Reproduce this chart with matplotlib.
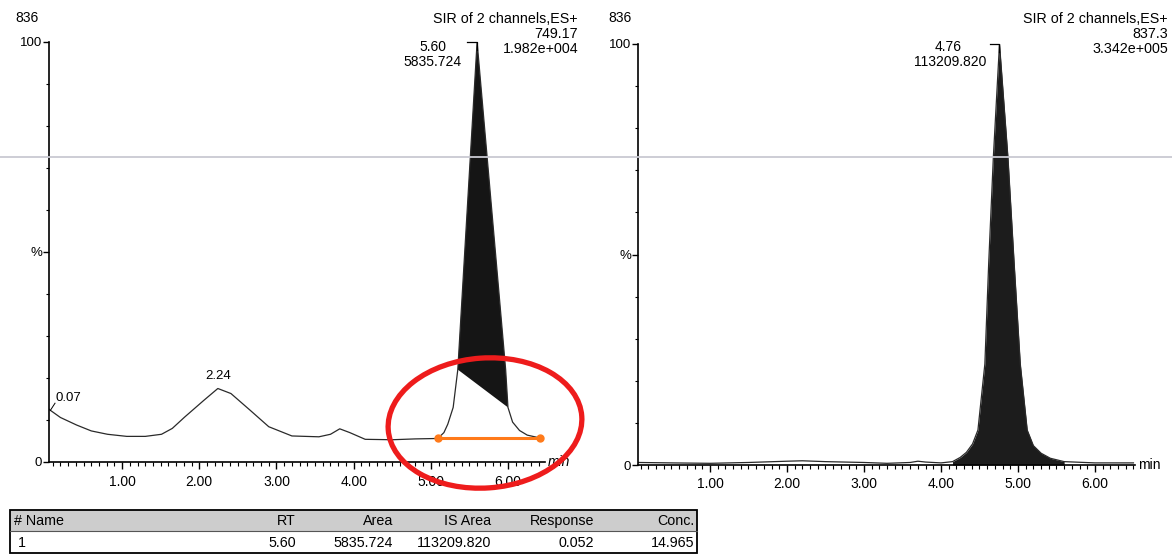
import numpy as np
import matplotlib
matplotlib.use("Agg")
import matplotlib.pyplot as plt
from matplotlib.patches import Ellipse, Rectangle

plt.rcParams['font.family'] = ['Liberation Sans', 'DejaVu Sans']

# ---- data ----
# left trace: SIR 749.17 (analyte), time in min, intensity in %
left_t = [0.05, 0.07, 0.2, 0.41, 0.6, 0.81, 1.06, 1.3, 1.51, 1.65, 1.81, 2.06, 2.24,
          2.41, 2.66, 2.9, 3.2, 3.55, 3.7, 3.82, 3.95, 4.15, 4.5, 4.8, 5.09,
          5.17, 5.22, 5.29, 5.35, 5.60, 5.97, 6.00,
          6.06, 6.15, 6.25, 6.42]
left_pct = [12.6, 12.3, 10.6, 8.8, 7.4, 6.6, 6.1, 6.1, 6.6, 8.0, 10.7, 14.7, 17.5,
            16.3, 12.3, 8.4, 6.2, 6.0, 6.6, 7.9, 7.0, 5.4, 5.3, 5.5, 5.6,
            7.0, 9.0, 13.0, 22.0, 100.0, 22.0, 13.0,
            9.5, 7.5, 6.4, 5.7]

# right trace: SIR 837.3 (internal standard)
right_t = [0.07, 0.5, 1.0, 1.5, 2.0, 2.2, 2.5, 3.0, 3.3, 3.6, 3.7, 3.8, 4.0,
           4.15, 4.25, 4.33, 4.41, 4.48, 4.57, 4.62, 4.68, 4.76, 4.87, 4.95, 5.03,
           5.12, 5.2, 5.3, 5.42, 5.6, 6.0, 6.5]
right_pct = [0.6, 0.5, 0.4, 0.6, 0.9, 1.0, 0.8, 0.6, 0.4, 0.6, 0.9, 0.7, 0.5,
             0.8, 1.8, 3.0, 5.0, 8.3, 24.0, 48.0, 73.0, 100.0, 73.0, 48.0, 24.0,
             8.3, 4.6, 2.8, 1.6, 0.8, 0.5, 0.5]

# integrated peak region (left is only partially shaded on the scan)
left_fill = (5.35, 6.00)
right_fill = (4.15, 5.6)

# orange baseline drawn on the left chromatogram
baseline_t = [5.09, 6.42]
baseline_pct = [5.7, 5.7]

x_ticks = [1, 2, 3, 4, 5, 6]

# header / peak labels
left_head = ["SIR of 2 channels,ES+", "749.17", "1.982e+004"]
right_head = ["SIR of 2 channels,ES+", "837.3", "3.342e+005"]
left_peak = ("5.60", "5835.724")
right_peak = ("4.76", "113209.820")
small_peaks = [(0.07, 12.3, "0.07"), (2.24, 17.5, "2.24")]

# quantification table
tbl_header = ["# Name", "RT", "Area", "IS Area", "Response", "Conc."]
tbl_row = ["1", "5.60", "5835.724", "113209.820", "0.052", "14.965"]

W, H = 1172, 554
fig = plt.figure(figsize=(W / 100, H / 100), dpi=100)


def px_axes(x0, x1, ytop, ybot):
    return fig.add_axes([x0 / W, (H - ybot) / H, (x1 - x0) / W, (ybot - ytop) / H])


def style(ax, xlim, italic_min):
    ax.set_xlim(*xlim)
    ax.set_ylim(0, 100)
    for s in ['top', 'right']:
        ax.spines[s].set_visible(False)
    for s in ['left', 'bottom']:
        ax.spines[s].set_linewidth(1.2)
    ax.set_xticks(x_ticks)
    ax.set_xticklabels(["%.2f" % v for v in x_ticks], fontsize=10)
    ax.set_xticks(np.arange(0.1, xlim[1], 0.1), minor=True)
    ax.set_yticks([0, 50, 100])
    ax.set_yticklabels(["0", "%", "100"], fontsize=9.5)
    ax.set_yticks(np.arange(10, 100, 10), minor=True)
    ax.tick_params(axis='x', which='major', length=5, width=1, pad=4)
    ax.tick_params(axis='x', which='minor', length=3, width=0.8)
    ax.tick_params(axis='y', which='major', length=4, width=1, pad=1)
    ax.tick_params(axis='y', which='minor', length=2, width=0.8)
    ax.text(1.006, 0.0, "min", transform=ax.transAxes, fontsize=10,
            ha='left', va='center', style='italic' if italic_min else 'normal')


# left chromatogram
axl = px_axes(49, 545, 42, 462)
style(axl, (0.052, 6.48), True)
lt = np.array(left_t)
lp = np.array(left_pct)
axl.plot(lt, lp, color='#2a2a2a', lw=0.9)
m = (lt >= left_fill[0]) & (lt <= left_fill[1])
axl.fill(lt[m], lp[m], color='#151515', lw=0)
axl.plot(baseline_t, baseline_pct, color='#ff7a1a', lw=2.2, marker='o',
         markersize=5, zorder=5)
axl.plot([5.47, 5.60, 5.60], [100, 100, 98], color='black', lw=0.9, clip_on=False)
for t, p, lab in small_peaks:
    axl.text(t + (0.06 if t < 1 else 0), p + 1.5, lab, fontsize=9.5,
             ha='left' if t < 1 else 'center', va='bottom')
axl.plot([0.07, 0.13], [12.3, 14.0], color='black', lw=0.7)

# right chromatogram
axr = px_axes(638, 1135, 44, 465)
style(axr, (0.065, 6.52), False)
rt = np.array(right_t)
rp = np.array(right_pct)
axr.plot(rt, rp, color='#2a2a2a', lw=0.9)
m = (rt >= right_fill[0]) & (rt <= right_fill[1])
axr.fill_between(rt[m], 0, rp[m], color='#1c1c1c', lw=0)
axr.plot([4.64, 4.76, 4.76], [100, 100, 98], color='black', lw=0.9, clip_on=False)

# page-level overlay in pixel coordinates
ov = fig.add_axes([0, 0, 1, 1], zorder=10)
ov.set_xlim(0, W)
ov.set_ylim(H, 0)
ov.axis('off')
ov.patch.set_alpha(0)

ov.plot([0, W], [157, 157], color='#c9c9d2', lw=1.3, zorder=0)

ov.text(15, 18, "836", fontsize=10, va='center', ha='left')
ov.text(608, 18, "836", fontsize=10, va='center', ha='left')
for i, s in enumerate(left_head):
    ov.text(578, 19 + 15 * i, s, fontsize=10.3, ha='right', va='center')
for i, s in enumerate(right_head):
    ov.text(1168, 19 + 15 * i, s, fontsize=10.3, ha='right', va='center')

ov.text(433, 47, left_peak[0], fontsize=10, ha='center', va='center')
ov.text(433, 62, left_peak[1], fontsize=10, ha='center', va='center')
ov.text(948, 47, right_peak[0], fontsize=10, ha='center', va='center')
ov.text(950, 62, right_peak[1], fontsize=10, ha='center', va='center')

# red circle highlighting the peak baseline
ov.add_patch(Ellipse((485, 423), 194, 130, angle=-4, fill=False,
                     edgecolor='#ee1c1c', lw=3.8))

# table
ov.add_patch(Rectangle((10, 510), 687, 21, facecolor='#cdcdcd', edgecolor='none'))
ov.add_patch(Rectangle((10, 510), 687, 43, facecolor='none', edgecolor='black', lw=1.3))
ov.plot([10, 697], [531, 531], color='#555555', lw=0.8)
col_x = [15, 296, 393, 491, 594, 694]
for j, (h, v) in enumerate(zip(tbl_header, tbl_row)):
    ha = 'left' if j == 0 else 'right'
    ov.text(col_x[j] if j else 14, 521, h, fontsize=10.3, ha=ha, va='center')
    ov.text(col_x[j] + (3 if j == 0 else 0), 543, v, fontsize=10.3, ha=ha, va='center')

fig.savefig("out.png", dpi=100)
